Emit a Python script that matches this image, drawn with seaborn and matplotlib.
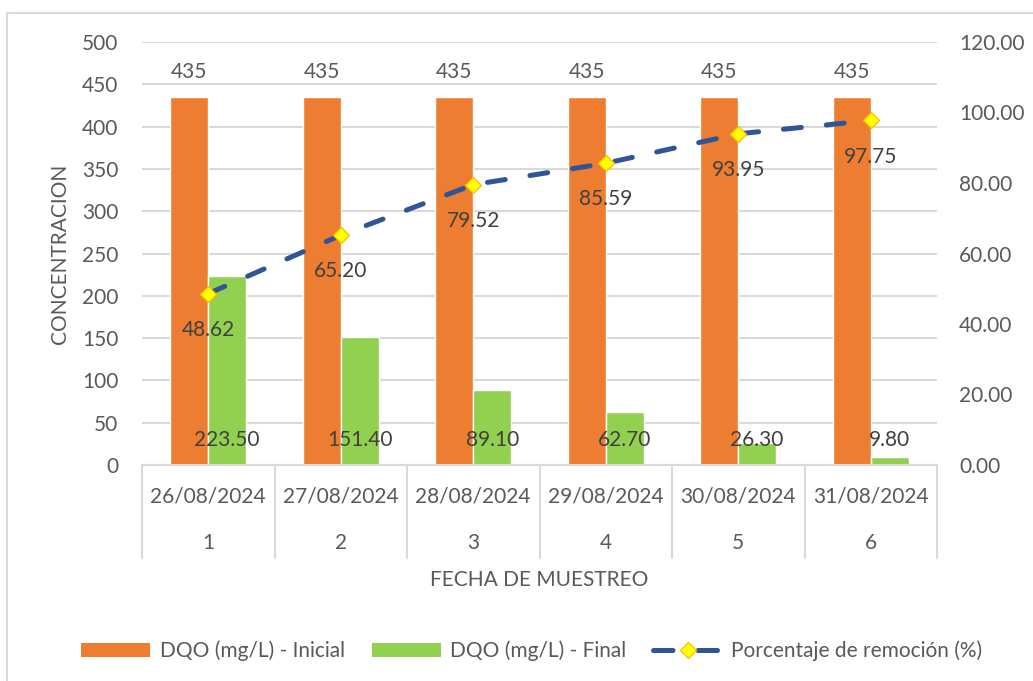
import numpy as np
import pandas as pd
import matplotlib
matplotlib.use("Agg")
import matplotlib.pyplot as plt
import seaborn as sns
from matplotlib.transforms import blended_transform_factory
from matplotlib.lines import Line2D
from matplotlib.patches import Patch

# ---- data ----
fechas = ["26/08/2024", "27/08/2024", "28/08/2024", "29/08/2024", "30/08/2024", "31/08/2024"]
muestras = ["1", "2", "3", "4", "5", "6"]
dqo_inicial = [435, 435, 435, 435, 435, 435]
dqo_final = [223.50, 151.40, 89.10, 62.70, 26.30, 9.80]
remocion = [48.62, 65.20, 79.52, 85.59, 93.95, 97.75]
serie_ini = "DQO (mg/L) - Inicial"
serie_fin = "DQO (mg/L) - Final"
serie_linea = "Porcentaje de remoción (%)"
left_ticks = list(range(0, 501, 50))
right_ticks = list(range(0, 121, 20))

# ---- style ----
sns.set_theme(style="white")
plt.rcParams["font.family"] = ["Lato", "DejaVu Sans"]
TXT = "#595959"
GRID = "#D9D9D9"
ORANGE = "#ED7D31"
GREEN = "#92D050"
BLUE = "#2F5597"
FS = 15
LW = 3.6

df = pd.DataFrame({
    "fecha": fechas * 2,
    "serie": [serie_ini] * len(fechas) + [serie_fin] * len(fechas),
    "valor": dqo_inicial + dqo_final,
})

fig = plt.figure(figsize=(10.33, 6.81), dpi=100)
fig.patch.set_facecolor("white")
ax = fig.add_axes([142 / 1033, 1 - 465 / 681, 795 / 1033, 423 / 681])

sns.barplot(data=df, x="fecha", y="valor", hue="serie",
            palette=[ORANGE, GREEN], width=0.57, saturation=1,
            legend=False, ax=ax)

ax.set_xlim(-0.5, len(fechas) - 0.5)
ax.set_ylim(0, 500)
ax.set_yticks(left_ticks)
ax.set_yticklabels([str(v) for v in left_ticks])
ax.yaxis.grid(True, color=GRID, lw=1.5)
ax.set_axisbelow(True)
for s in ["top", "right", "left"]:
    ax.spines[s].set_visible(False)
ax.spines["bottom"].set_color(GRID)
ax.spines["bottom"].set_linewidth(1.5)
ax.tick_params(axis="y", length=0, pad=17, labelsize=FS, labelcolor=TXT)
ax.tick_params(axis="x", length=0, labelbottom=False)
ax.set_xlabel("")
ax.set_ylabel("")

# multi-level category labels
trans = blended_transform_factory(ax.transData, ax.transAxes)
for i, (f, m) in enumerate(zip(fechas, muestras)):
    ax.text(i, -0.0733, f, transform=trans, ha="center", va="center",
            fontsize=FS, color=TXT)
    ax.text(i, -0.184, m, transform=trans, ha="center", va="center",
            fontsize=FS, color=TXT)
for b in np.arange(-0.5, len(fechas), 1.0):
    ax.plot([b, b], [0, -0.22], transform=trans, color=GRID, lw=1.5,
            clip_on=False)

ax.text(0.5, -0.272, "FECHA DE MUESTREO", transform=ax.transAxes,
        ha="center", va="center", fontsize=FS, color=TXT)
ax.text(-0.103, 0.5, "CONCENTRACION", transform=ax.transAxes, rotation=90,
        ha="center", va="center", fontsize=FS, color=TXT)

# bar labels
n = len(fechas)
bars = ax.patches
for p in bars[:n]:
    cx = p.get_x() + p.get_width() / 2
    ax.annotate(f"{p.get_height():.0f}", xy=(cx, p.get_height()),
                xytext=(0, 18), textcoords="offset points",
                ha="center", va="center", fontsize=FS, color=TXT)
for p in bars[n:2 * n]:
    cx = p.get_x() + p.get_width() / 2
    ax.annotate(f"{p.get_height():.2f}", xy=(cx, 0),
                xytext=(0, 18), textcoords="offset points",
                ha="center", va="center", fontsize=FS, color="#404040")

# secondary axis with line
ax2 = ax.twinx()
ax2.set_ylim(0, 120)
ax2.set_yticks(right_ticks)
ax2.set_yticklabels([f"{v:.2f}" for v in right_ticks])
for s in ax2.spines.values():
    s.set_visible(False)
ax2.tick_params(axis="y", length=0, pad=16, labelsize=FS, labelcolor=TXT)
ax2.grid(False)

xpos = np.arange(n)
ax2.plot(xpos, remocion, color=BLUE, lw=LW, linestyle=(0, (3.6, 5.0)),
         dash_capstyle="round", marker="D", markersize=8.5,
         markerfacecolor="#FFFF00", markeredgecolor="#FFC000",
         markeredgewidth=1.0, zorder=3)
for x, v in zip(xpos, remocion):
    ax2.annotate(f"{v:.2f}", xy=(x, v), xytext=(0, -26),
                 textcoords="offset points", ha="center", va="center",
                 fontsize=FS, color="#404040")

# legend
handles = [
    Patch(facecolor=ORANGE, edgecolor="none"),
    Patch(facecolor=GREEN, edgecolor="none"),
    Line2D([], [], color=BLUE, lw=LW, linestyle=(0, (3.9, 5.0)),
           dash_capstyle="round", marker="D", markersize=8.5,
           markerfacecolor="#FFFF00", markeredgecolor="#FFC000",
           markeredgewidth=1.0),
]
fig.legend(handles, [serie_ini, serie_fin, serie_linea], loc="center",
           bbox_to_anchor=(532 / 1033, 1 - 651 / 681), ncol=3, frameon=False,
           fontsize=FS, labelcolor=TXT, handlelength=3.3, handleheight=0.6,
           handletextpad=0.45, columnspacing=1.3)

# chart border
fig.add_artist(Line2D([7 / 1033, 7 / 1033], [0, 1 - 13 / 681],
                      transform=fig.transFigure, color=GRID, lw=1.5))
fig.add_artist(Line2D([7 / 1033, 1], [1 - 13 / 681, 1 - 13 / 681],
                      transform=fig.transFigure, color=GRID, lw=1.5))

fig.savefig("out.png", dpi=100, facecolor="white")
